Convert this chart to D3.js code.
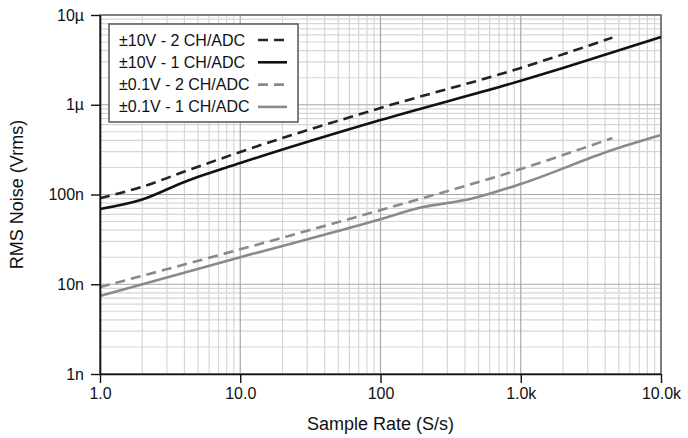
<!DOCTYPE html>
<html>
<head>
<meta charset="utf-8">
<script src="https://cdn.jsdelivr.net/npm/d3@7"></script>
<style>
  body { margin: 0; background: #fff; }
  text { font-family: "Liberation Sans", Arial, Helvetica, sans-serif; fill: #111; }
</style>
</head>
<body>
<div id="chart"></div>
<script>
"use strict";

// axis ticks
var xTicks = [1, 10, 100, 1000, 10000];
var xLabels = ["1.0", "10.0", "100", "1.0k", "10.0k"];
var yTicks = [1e-9, 1e-8, 1e-7, 1e-6, 1e-5];
var yLabels = ["1n", "10n", "100n", "1µ", "10µ"];

// series (sample rate S/s, noise Vrms)
var hi2Rate = [1, 2, 4, 10, 100, 1000, 4500];
var hi2Noise = [91e-9, 122e-9, 180e-9, 298e-9, 920e-9, 2.57e-6, 5.6e-6];

var hi1Rate = [1, 2, 4, 10, 100, 1000, 2000, 10000];
var hi1Noise = [69e-9, 88e-9, 138e-9, 224e-9, 676e-9, 1.85e-6, 2.57e-6, 5.7e-6];

var lo2Rate = [1, 10, 100, 1000, 4500];
var lo2Noise = [9.3e-9, 24.5e-9, 67e-9, 192e-9, 426e-9];

var lo1Rate = [1, 10, 100, 190, 435, 1000, 4500, 10000];
var lo1Noise = [7.4e-9, 20e-9, 53e-9, 71e-9, 89e-9, 131e-9, 313e-9, 460e-9];

var seriesNames = ["±10V - 2 CH/ADC", "±10V - 1 CH/ADC", "±0.1V - 2 CH/ADC", "±0.1V - 1 CH/ADC"];

var width = 688, height = 438;
var margin = { top: 15, left: 100, right: 27, bottom: 64 };
var plotW = width - margin.left - margin.right;
var plotH = height - margin.top - margin.bottom;
var fontSize = 16;
var titleSize = 18;

var svg = d3.select("#chart").append("svg")
    .attr("width", width)
    .attr("height", height);

var g = svg.append("g")
    .attr("transform", "translate(" + margin.left + "," + margin.top + ")");

var x = d3.scaleLog().domain([1, 10000]).range([0, plotW]);
var y = d3.scaleLog().domain([1e-9, 1e-5]).range([plotH, 0]);

// minor grid values 2..9 per decade
var xMinor = [], yMinor = [];
for (var e = 0; e < 4; e++) {
    for (var m = 2; m <= 9; m++) {
        xMinor.push(m * Math.pow(10, e));
        yMinor.push(m * Math.pow(10, e - 9));
    }
}

g.selectAll(".xminor").data(xMinor).enter().append("line")
    .attr("x1", function (d) { return x(d); })
    .attr("x2", function (d) { return x(d); })
    .attr("y1", 0).attr("y2", plotH)
    .attr("stroke", "#d6d6d6").attr("stroke-width", 1.2);

g.selectAll(".yminor").data(yMinor).enter().append("line")
    .attr("y1", function (d) { return y(d); })
    .attr("y2", function (d) { return y(d); })
    .attr("x1", 0).attr("x2", plotW)
    .attr("stroke", "#d6d6d6").attr("stroke-width", 1.2);

g.selectAll(".xmajor").data(xTicks).enter().append("line")
    .attr("x1", function (d) { return x(d); })
    .attr("x2", function (d) { return x(d); })
    .attr("y1", 0).attr("y2", plotH)
    .attr("stroke", "#a8a8a8").attr("stroke-width", 1.2);

g.selectAll(".ymajor").data(yTicks).enter().append("line")
    .attr("y1", function (d) { return y(d); })
    .attr("y2", function (d) { return y(d); })
    .attr("x1", 0).attr("x2", plotW)
    .attr("stroke", "#a8a8a8").attr("stroke-width", 1.2);

// frame (top and right)
g.append("rect")
    .attr("x", 0).attr("y", 0)
    .attr("width", plotW).attr("height", plotH)
    .attr("fill", "none")
    .attr("stroke", "#666").attr("stroke-width", 1.5);

// lines
var line = d3.line()
    .curve(d3.curveMonotoneX)
    .x(function (d) { return x(d[0]); })
    .y(function (d) { return y(d[1]); });

var styles = [
    { color: "#222", dash: "10,6" },
    { color: "#111", dash: null },
    { color: "#8a8a8a", dash: "10,6" },
    { color: "#8a8a8a", dash: null }
];

var series = [
    d3.zip(hi2Rate, hi2Noise),
    d3.zip(hi1Rate, hi1Noise),
    d3.zip(lo2Rate, lo2Noise),
    d3.zip(lo1Rate, lo1Noise)
];

series.forEach(function (s, i) {
    g.append("path")
        .datum(s)
        .attr("d", line)
        .attr("fill", "none")
        .attr("stroke", styles[i].color)
        .attr("stroke-width", 2.6)
        .attr("stroke-dasharray", styles[i].dash);
});

// axes
var xAxis = d3.axisBottom(x)
    .tickValues(xTicks)
    .tickFormat(function (d, i) { return xLabels[i]; })
    .tickSize(9).tickSizeOuter(0).tickPadding(5);

var yAxis = d3.axisLeft(y)
    .tickValues(yTicks)
    .tickFormat(function (d, i) { return yLabels[i]; })
    .tickSize(9).tickSizeOuter(0).tickPadding(7);

var gx = g.append("g").attr("transform", "translate(0," + plotH + ")").call(xAxis);
var gy = g.append("g").call(yAxis);

[gx, gy].forEach(function (a) {
    a.selectAll("path").attr("stroke", "#111").attr("stroke-width", 1.6);
    a.selectAll("line").attr("stroke", "#111").attr("stroke-width", 1.4);
    a.selectAll("text").attr("font-size", fontSize).attr("fill", "#111")
        .style("font-family", "'Liberation Sans', Arial, Helvetica, sans-serif");
});

// axis titles
svg.append("text")
    .attr("x", margin.left + plotW / 2)
    .attr("y", 430)
    .attr("text-anchor", "middle")
    .attr("font-size", titleSize)
    .text("Sample Rate (S/s)");

svg.append("text")
    .attr("transform", "translate(23," + (margin.top + plotH / 2) + ") rotate(-90)")
    .attr("text-anchor", "middle")
    .attr("font-size", titleSize)
    .text("RMS Noise (Vrms)");

// legend
var legend = svg.append("g").attr("transform", "translate(109,24)");
legend.append("rect")
    .attr("width", 189).attr("height", 98)
    .attr("fill", "#fff")
    .attr("stroke", "#555").attr("stroke-width", 1.5);

seriesNames.forEach(function (name, i) {
    var ry = 16 + i * 22.3;
    legend.append("text")
        .attr("x", 10).attr("y", ry + 5.5)
        .attr("font-size", fontSize)
        .text(name);
    legend.append("line")
        .attr("x1", 149).attr("x2", 178)
        .attr("y1", ry).attr("y2", ry)
        .attr("stroke", styles[i].color)
        .attr("stroke-width", 2.6)
        .attr("stroke-dasharray", styles[i].dash);
});
</script>
</body>
</html>
